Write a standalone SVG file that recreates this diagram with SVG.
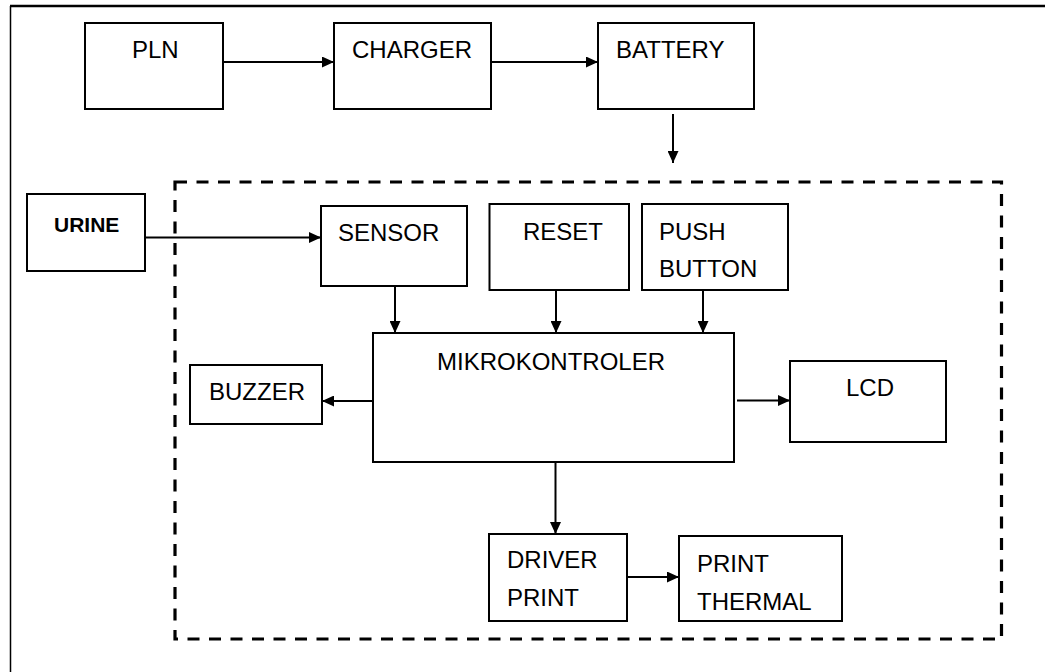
<svg xmlns="http://www.w3.org/2000/svg" width="1045" height="672" viewBox="0 0 1045 672">
  <defs>
    <marker id="arr" markerUnits="userSpaceOnUse" markerWidth="13" markerHeight="11" refX="12" refY="5.5" orient="auto">
      <path d="M0,0 L12,5.5 L0,11 z" fill="#000"/>
    </marker>
    <style>
      .box { fill: #fff; stroke: #000; stroke-width: 2; }
      .lbl { font-family: "Liberation Sans", Arial, sans-serif; font-size: 24px; fill: #000; }
      .bold { font-weight: bold; font-size: 21px; }
      .con line { stroke: #000; stroke-width: 2; marker-end: url(#arr); }
    </style>
  </defs>
  <rect x="0" y="0" width="1045" height="672" fill="#fff"/>
  <!-- outer frame -->
  <line x1="10" y1="6" x2="1045" y2="6" stroke="#000" stroke-width="2.5"/>
  <line x1="10.5" y1="6" x2="10.5" y2="672" stroke="#000" stroke-width="1.5"/>
  <!-- dashed boundary -->
  <rect id="system-boundary" x="175" y="182" width="826.5" height="457" fill="none" stroke="#000" stroke-width="3.2" stroke-dasharray="12 9.5"/>

  <g id="pln"><rect class="box" x="85" y="23" width="138" height="86"/><text class="lbl" x="132" y="58">PLN</text></g>
  <g id="charger"><rect class="box" x="334" y="23" width="157" height="86"/><text class="lbl" x="352" y="58">CHARGER</text></g>
  <g id="battery"><rect class="box" x="598" y="23" width="156" height="86"/><text class="lbl" x="616" y="58">BATTERY</text></g>
  <g id="urine"><rect class="box" x="27" y="194" width="118" height="77"/><text class="lbl bold" x="54" y="232">URINE</text></g>
  <g id="sensor"><rect class="box" x="321" y="206" width="146" height="80"/><text class="lbl" x="338" y="241">SENSOR</text></g>
  <g id="reset"><rect class="box" x="489.5" y="204" width="139.5" height="86"/><text class="lbl" x="523" y="240">RESET</text></g>
  <g id="push-button"><rect class="box" x="642" y="204" width="146" height="86"/><text class="lbl" x="659" y="240">PUSH</text><text class="lbl" x="659" y="277">BUTTON</text></g>
  <g id="mikrokontroler"><rect class="box" x="373" y="333" width="361" height="129"/><text class="lbl" x="437" y="370">MIKROKONTROLER</text></g>
  <g id="buzzer"><rect class="box" x="190" y="365" width="132" height="59"/><text class="lbl" x="209" y="400">BUZZER</text></g>
  <g id="lcd"><rect class="box" x="790" y="361" width="156" height="81"/><text class="lbl" x="846" y="396">LCD</text></g>
  <g id="driver-print"><rect class="box" x="489" y="534" width="138" height="87"/><text class="lbl" x="507" y="568">DRIVER</text><text class="lbl" x="507" y="606">PRINT</text></g>
  <g id="print-thermal"><rect class="box" x="679" y="536" width="163" height="85"/><text class="lbl" x="697" y="572">PRINT</text><text class="lbl" x="697" y="610">THERMAL</text></g>

  <g id="connectors" class="con">
    <line x1="223" y1="62" x2="334" y2="62"/>
    <line x1="491" y1="62" x2="598" y2="62"/>
    <line x1="673" y1="114" x2="673" y2="163"/>
    <line x1="145" y1="237.5" x2="321" y2="237.5"/>
    <line x1="395" y1="286" x2="395" y2="333"/>
    <line x1="556" y1="290" x2="556" y2="333"/>
    <line x1="703" y1="290" x2="703" y2="333"/>
    <line x1="373" y1="401" x2="322" y2="401"/>
    <line x1="737" y1="400.5" x2="790" y2="400.5"/>
    <line x1="555.5" y1="462" x2="555.5" y2="534"/>
    <line x1="627" y1="577" x2="679" y2="577"/>
  </g>
</svg>
